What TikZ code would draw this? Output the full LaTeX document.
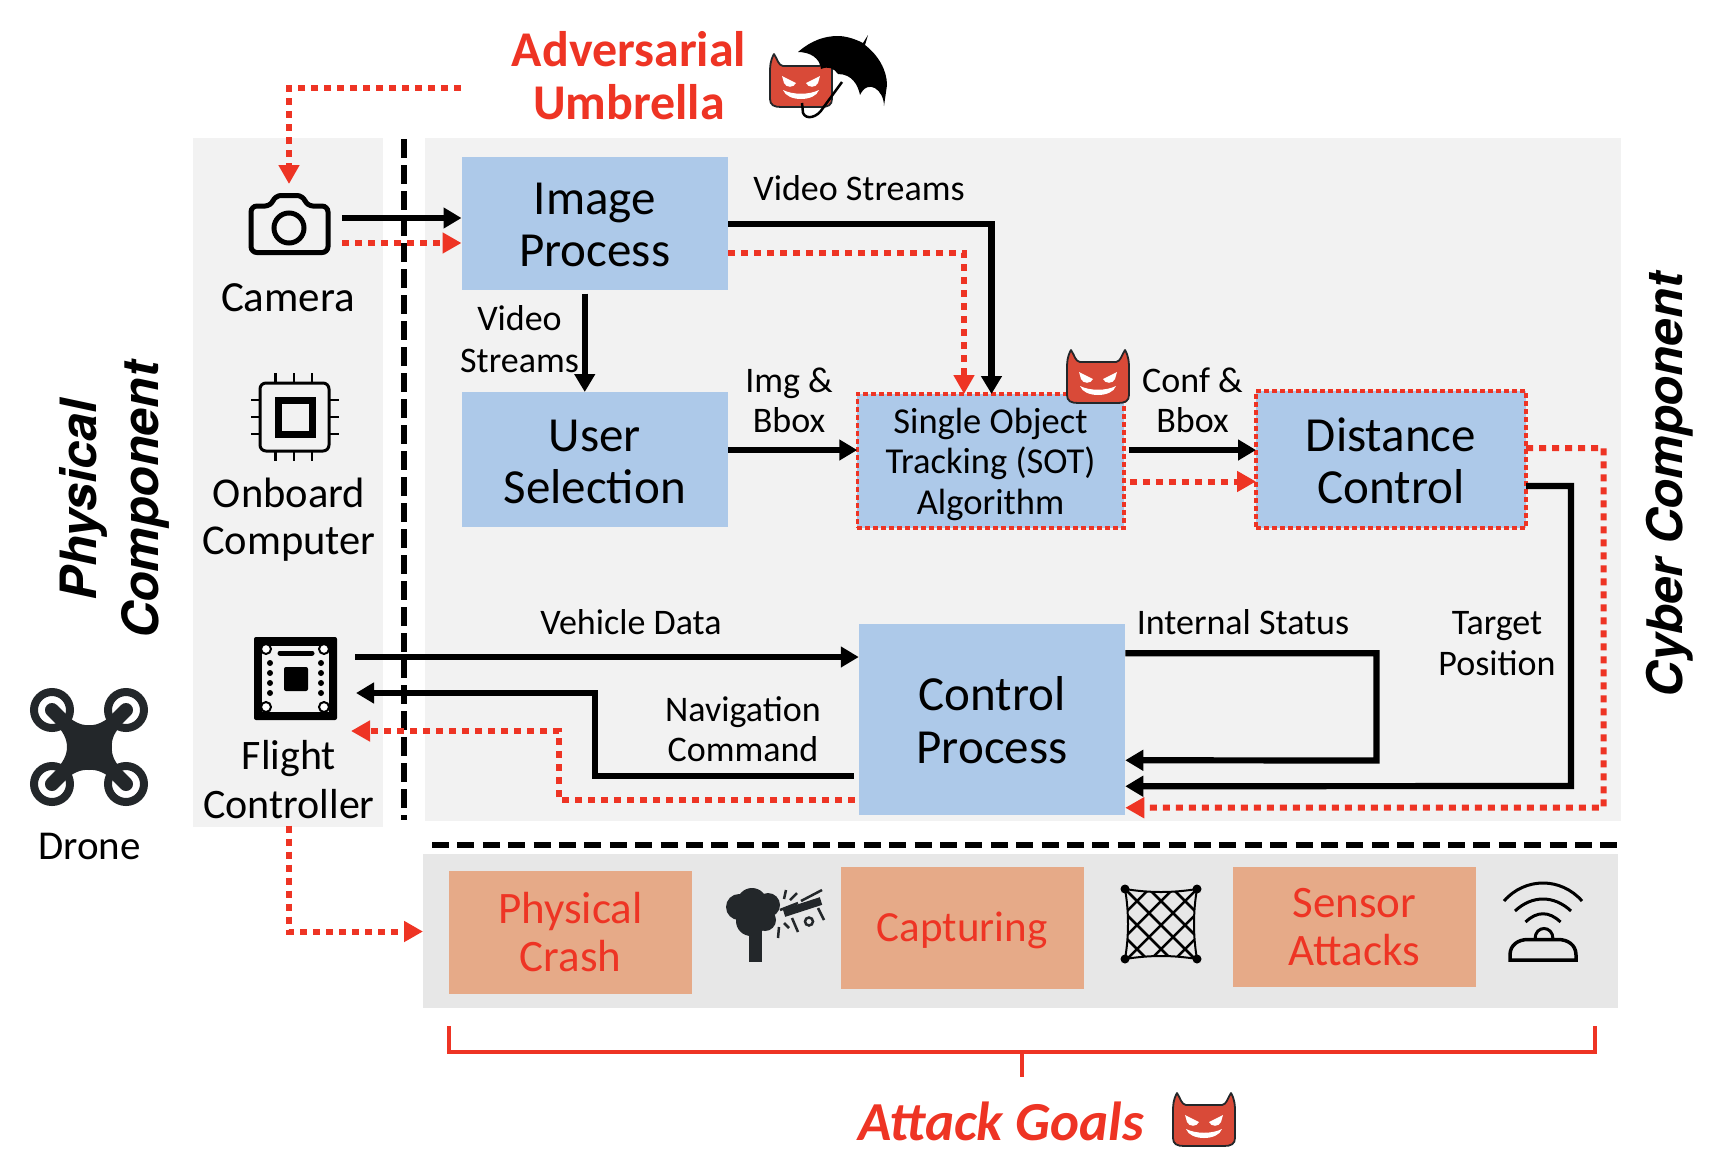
\documentclass[tikz,border=0pt]{standalone}
\usepackage{fontspec}
\setmainfont{Carlito}
\setsansfont{TeX Gyre Heros}
\usetikzlibrary{arrows.meta,positioning}

\definecolor{atkred}{HTML}{EE3424}
\definecolor{facered}{HTML}{D94A38}
\definecolor{boxblue}{HTML}{ADC9E9}
\definecolor{goalbox}{HTML}{E6AA88}
\definecolor{panelgray}{HTML}{F2F2F2}
\definecolor{goalpanel}{HTML}{E7E7E7}
\definecolor{dronedark}{HTML}{23272A}

\newcommand{\toproom}[1]{\rule{0pt}{#1}}

\begin{document}
\begin{tikzpicture}[x=1pt,y=-1pt,
  panel/.style={fill=panelgray,inner sep=0pt,outer sep=0pt},
  block/.style={fill=boxblue,inner sep=0pt,outer sep=0pt,minimum width=266.5pt,align=center,font=\fontsize{49}{52.5}\selectfont},
  attacked/.style={draw=atkred,line width=3.5pt,dash pattern=on 5pt off 3pt},
  goal/.style={fill=goalbox,text=atkred,inner sep=0pt,outer sep=0pt,minimum width=243pt,align=center,font=\fontsize{45}{48}\selectfont},
  iconspot/.style={inner sep=0pt,outer sep=0pt},
  devicetext/.style={inner sep=0pt,align=center,font=\fontsize{42.5}{47}\selectfont},
  flowtext/.style={inner sep=0pt,align=center,font=\fontsize{36}{40.5}\selectfont},
  bigital/.style={inner sep=0pt,align=center,rotate=90,font=\fontsize{50}{62}\selectfont\sffamily\bfseries\itshape},
  flow/.style={draw=black,line width=6.2pt,-{Triangle[length=18pt,width=20pt]}},
  redflow/.style={draw=atkred,line width=6pt,dash pattern=on 7pt off 6pt,-{Triangle[length=19pt,width=20pt]}},
  separator/.style={draw=black,line width=6pt,dash pattern=on 19pt off 7pt},
  bracket/.style={draw=atkred,line width=4pt},
  devil/.pic={
    \draw[fill=facered,draw=dronedark,line width=1.8pt,line join=round]
      (-27,-27) .. controls (-23,-21) and (-23,-16) .. (-18,-15) -- (18,-15)
      .. controls (23,-16) and (23,-21) .. (27,-27) .. controls (31,-20) and (31,-14) .. (31,-8)
      -- (31,18) .. controls (31,24) and (27,26) .. (20,26) -- (-20,26)
      .. controls (-27,26) and (-31,24) .. (-31,18) -- (-31,-8)
      .. controls (-31,-14) and (-31,-20) .. (-27,-27) -- cycle;
    \fill[white] (-19,-5) -- (-5,2) .. controls (-7,7) and (-15,7) .. (-17,2) -- cycle;
    \fill[white] (19,-5) -- (5,2) .. controls (7,7) and (15,7) .. (17,2) -- cycle;
    \fill[white] (-18,9) .. controls (-8,14) and (8,14) .. (18,9)
      .. controls (14,21) and (-14,21) .. (-18,9) -- cycle;
  }]

  \useasboundingbox (0,0) rectangle (1730,1160);

  % panels
  \node[panel,minimum width=190pt,minimum height=689.5pt] (physpanel) at (288,482.25) {};
  \node[panel,minimum width=1195.5pt,minimum height=683.5pt] (cyberpanel) at (1022.75,479.25) {};
  \node[panel,fill=goalpanel,minimum width=1195pt,minimum height=153.5pt] (atkpanel) at (1020.5,930.75) {};

  \coordinate (sepTop) at (403.5,139);
  \coordinate (sepBottom) at (403.5,820);
  \coordinate (rowLeft) at (432,844.5);
  \coordinate (rowRight) at (1620,844.5);
  \draw[separator] (sepTop) -- (sepBottom);
  \draw[separator,dash pattern=on 17pt off 8.4pt] (rowLeft) -- (rowRight);

  % blocks
  \node[block,minimum height=133pt] (imgproc) at (594.75,223.5) {\toproom{34pt}Image\\Process};
  \node[block,minimum height=135pt] (usersel) [below=102pt of imgproc] {\toproom{36pt}User\\Selection};
  \node[block,attacked,minimum height=134pt,font=\fontsize{36.5}{40.5}\selectfont] (sot) at (990.5,461) {\toproom{32pt}Single Object\\Tracking (SOT)\\Algorithm};
  \node[block,attacked,minimum width=270pt,minimum height=137pt] (distctrl) at (1391,459.5) {\toproom{36pt}Distance\\Control};
  \node[block,minimum height=190.5pt] (ctrlproc) at (992,719.25) {\toproom{36pt}Control\\Process};

  \node[goal,minimum height=123pt] (crash) at (570.5,932.5) {Physical\\Crash};
  \node[goal,font=\fontsize{43}{48}\selectfont,minimum height=122pt] (capture) at (962,928) {\toproom{34pt}Capturing};
  \node[goal,minimum height=120pt] (sensor) at (1354.5,927) {Sensor\\Attacks};

  % device icons
  \node[iconspot,minimum width=82pt,minimum height=61pt] (camera) at (289,225) {};
  \node[iconspot,minimum width=82pt,minimum height=83pt] (fcboard) at (296,678.5) {};

  \draw[line width=5pt,rounded corners=6pt] (251,252.5) -- (251,206) -- (271,206) -- (275,195.5)
    -- (303,195.5) -- (307,206) -- (328,206) -- (328,252.5) -- cycle;
  \draw[line width=5pt] (289,228) circle[radius=15];

  \draw[line width=3pt,fill=panelgray,rounded corners=6pt] (260,383) rectangle (329,451);
  \draw[line width=7pt] (278,400.5) rectangle (312,434);
  \foreach \p in {275.5,294,312} {
    \draw[line width=2.5pt] (\p,373) -- (\p,382);
    \draw[line width=2.5pt] (\p,452) -- (\p,461);
  }
  \foreach \p in {400,417,434} {
    \draw[line width=2.5pt] (251,\p) -- (259,\p);
    \draw[line width=2.5pt] (330,\p) -- (339,\p);
  }

  \fill[black,rounded corners=2pt] (254,637) rectangle (337,720);
  \fill[panelgray] (262,646) rectangle (329,712);
  \fill[black,rounded corners=2pt] (284,667) rectangle (308,691);
  \draw[line width=5pt,line cap=round] (280,653) -- (312,653);
  \foreach \p in {663,673,683,693} {
    \fill (270,\p) circle[radius=3];
    \fill (321,\p) circle[radius=3];
  }
  \foreach \qx/\qy in {266/649,324/649,266/707,324/707}
    \draw[line width=2pt,fill=white] (\qx,\qy) circle[radius=5];

  % drone
  \draw[dronedark,line width=8pt] (52,710) circle[radius=18];
  \draw[dronedark,line width=8pt] (126,710) circle[radius=18];
  \draw[dronedark,line width=8pt] (52,784) circle[radius=18];
  \draw[dronedark,line width=8pt] (126,784) circle[radius=18];
  \draw[dronedark,line width=14pt,line cap=round] (52,710) -- (126,784);
  \draw[dronedark,line width=14pt,line cap=round] (126,710) -- (52,784);
  \fill[dronedark] (89,725) .. controls (80,726) and (72,720) .. (66,715) -- (57,725)
    .. controls (62,731) and (67,738) .. (67,747) .. controls (67,756) and (62,763) .. (57,769)
    -- (66,779) .. controls (72,774) and (80,769) .. (89,770) .. controls (98,769) and (106,774) .. (112,779)
    -- (121,769) .. controls (116,763) and (111,756) .. (112,747) .. controls (111,738) and (116,731) .. (121,725)
    -- (112,715) .. controls (106,720) and (98,726) .. (89,725) -- cycle;

  % umbrella and devils
  \pic at (801,81) {devil};
  \pic at (1098,377) {devil};
  \pic at (1204,1120) {devil};
  \draw[line width=2.5pt] (842,82) -- (823,108) .. controls (817,118) and (806,120) .. (803,113) -- (802,103);
  \fill[black] (798,52) .. controls (812,40) and (825,36) .. (838,36) .. controls (846,36) and (855,39) .. (863,43)
    -- (868,35) -- (865,45) .. controls (878,55) and (887,70) .. (887,85) -- (884,106)
    .. controls (884,90) and (868,78) .. (860,95) .. controls (858,85) and (852,74) .. (838,74)
    .. controls (834,68) and (828,66) .. (821,69) .. controls (820,58) and (810,52) .. (798,52) -- cycle;

  % tree and crashing drone
  \fill[dronedark] (752,903) circle[radius=15];
  \fill[dronedark] (739,907) circle[radius=13];
  \fill[dronedark] (768,905) circle[radius=12];
  \fill[dronedark] (751,921) circle[radius=15];
  \fill[dronedark] (765,920) circle[radius=11];
  \fill[dronedark] (749,930) rectangle (762,962);
  \draw[dronedark,line width=8pt] (784,913) -- (821,901);
  \foreach \xa/\ya/\xb/\yb in {780/910/798/903,801/901/822/890,792/918/798/932,818/908/824/920,786/890/784/899,797/893/790/900,784/923/789/928,779/927/778/938}
    \draw[dronedark,line width=2.5pt] (\xa,\ya) -- (\xb,\yb);
  \draw[dronedark,line width=2.5pt] (809,921.5) circle[radius=4];

  % net
  \begin{scope}
    \clip (1125,889) .. controls (1150,893) and (1172,893) .. (1197,889) .. controls (1193,912) and (1193,936) .. (1197,959)
      .. controls (1172,955) and (1150,955) .. (1125,959) .. controls (1129,936) and (1129,912) .. (1125,889) -- cycle;
    \foreach \k in {-3,...,3} {
      \draw[line width=2.5pt] (\k*24+1125,889) -- (\k*24+1195,959);
      \draw[line width=2.5pt] (\k*24+1197,889) -- (\k*24+1127,959);
    }
  \end{scope}
  \draw[line width=2pt] (1125,889) .. controls (1150,893) and (1172,893) .. (1197,889) .. controls (1193,912) and (1193,936) .. (1197,959)
    .. controls (1172,955) and (1150,955) .. (1125,959) .. controls (1129,936) and (1129,912) .. (1125,889) -- cycle;
  \foreach \qx/\qy in {1125/889,1197/889,1125/959,1197/959}
    \fill (\qx,\qy) circle[radius=4.5];

  % sensor waves
  \draw[line width=3pt] (1504,901) .. controls (1525,877) and (1561,877) .. (1582,901);
  \draw[line width=3pt] (1515,911) .. controls (1532,895) and (1554,895) .. (1571,911);
  \draw[line width=3pt] (1525.5,922) .. controls (1537,911) and (1549,911) .. (1560.5,922);
  \draw[line width=3pt] (1535,939) .. controls (1535,925) and (1553,925) .. (1553,939);
  \draw[line width=3.5pt] (1510,960) -- (1510,955) .. controls (1510,945) and (1518,939.5) .. (1528,939.5) -- (1558,939.5)
    .. controls (1568,939.5) and (1576,945) .. (1576,955) -- (1576,960) -- cycle;

  % labels
  \node[devicetext,font=\fontsize{43}{47}\selectfont] (camlabel) at (288,298) {Camera};
  \node[devicetext] (oblabel) at (289,520) {Onboard\\Computer};
  \node[devicetext,font=\fontsize{42}{49}\selectfont] (fclabel) at (289,780) {Flight\\Controller};
  \node[devicetext,font=\fontsize{41}{47}\selectfont] (dronelabel) at (89.5,846) {Drone};

  \node[flowtext] (vs1) at (859,188) {Video Streams};
  \node[flowtext,font=\fontsize{36}{42}\selectfont] (vs2) at (519.5,339.5) {Video\\Streams};
  \node[flowtext] (imgbbox) at (789,400.5) {Img \&\\Bbox};
  \node[flowtext] (confbbox) at (1192.5,400.5) {Conf \&\\Bbox};
  \node[flowtext] (vehdata) at (631,622) {Vehicle Data};
  \node[flowtext] (intstat) at (1243,622) {Internal Status};
  \node[flowtext] (tgtpos) at (1497,643.5) {Target\\Position};
  \node[flowtext] (navcmd) at (743,729) {Navigation\\Command};

  \node[inner sep=0pt,align=center,text=atkred,font=\fontsize{50}{53}\selectfont\bfseries] (advlabel) at (629,76) {Adversarial\\Umbrella};
  \node[inner sep=0pt,text=atkred,font=\fontsize{55}{58}\selectfont\bfseries\itshape] (goals) at (1001,1121) {Attack Goals};

  \node[bigital] (physlabel) at (114,500) {Physical\\Component};
  \node[bigital,font=\fontsize{49}{62}\selectfont\sffamily\bfseries\itshape] (cyberlabel) at (1670,485) {Cyber Component};

  % connectors
  \coordinate (umbStart) at (461,88);
  \coordinate (tgtCorner) at (1571,786);
  \coordinate (atkCorner) at (1603.7,807.5);
  \coordinate (statusCorner) at (1376.5,760.5);
  \coordinate (navBend) at (595,693);
  \coordinate (navRedBend) at (559,731);

  \draw[redflow] (umbStart) -| ([yshift=10.5pt]camera.north);
  \draw[flow] ([xshift=12pt,yshift=7pt]camera.east) -- ([yshift=5.5pt]imgproc.west);
  \draw[redflow] ([xshift=12pt,yshift=-18pt]camera.east) -- ([yshift=-19.5pt]imgproc.west);
  \draw[flow] ([yshift=-.5pt]imgproc.east) -| ([xshift=1pt]sot.north);
  \draw[redflow] ([yshift=-29.5pt]imgproc.east) -| ([xshift=-26.5pt]sot.north);
  \draw[flow] ([xshift=-10pt,yshift=-3.5pt]imgproc.south) -- ([xshift=-10pt]usersel.north);
  \draw[flow] ([yshift=9.5pt]usersel.east) -- ([yshift=11pt]sot.west);
  \draw[flow] ([xshift=5pt,yshift=11pt]sot.east) -- ([yshift=9.5pt]distctrl.west);
  \draw[redflow] ([xshift=6pt,yshift=-20.5pt]sot.east) -- ([yshift=-22pt]distctrl.west);
  \draw[flow] ([yshift=-26.5pt]distctrl.east) -| (tgtCorner) -- ([yshift=-67pt]ctrlproc.east);
  \draw[redflow] ([yshift=11.5pt]distctrl.east) -| (atkCorner) -- ([yshift=-88.5pt]ctrlproc.east);
  \draw[flow] ([yshift=66pt]ctrlproc.east) -| (statusCorner) -- ([yshift=-41pt]ctrlproc.east);
  \draw[flow] ([xshift=18pt,yshift=21.5pt]fcboard.east) -- ([yshift=62.25pt]ctrlproc.west);
  \draw[flow] ([xshift=-5pt,yshift=-57pt]ctrlproc.west) -| (navBend) -- ([xshift=19pt,yshift=-14.5pt]fcboard.east);
  \draw[redflow] ([xshift=-4pt,yshift=-80.5pt]ctrlproc.west) -| (navRedBend) -- ([xshift=14pt,yshift=-52.5pt]fcboard.east);
  \draw[redflow] ([xshift=1pt,yshift=1.5pt]physpanel.south) |- ([yshift=-.75pt]atkpanel.west);

  \coordinate (brLeft) at (449,1026);
  \coordinate (brRight) at (1595,1026);
  \coordinate (brMid) at (1022,1052);
  \coordinate (brTail) at (1022,1076.5);
  \draw[bracket] (brLeft) |- (brRight |- brMid) -- (brRight);
  \draw[bracket] (brMid) -- (brTail);
\end{tikzpicture}
\end{document}
